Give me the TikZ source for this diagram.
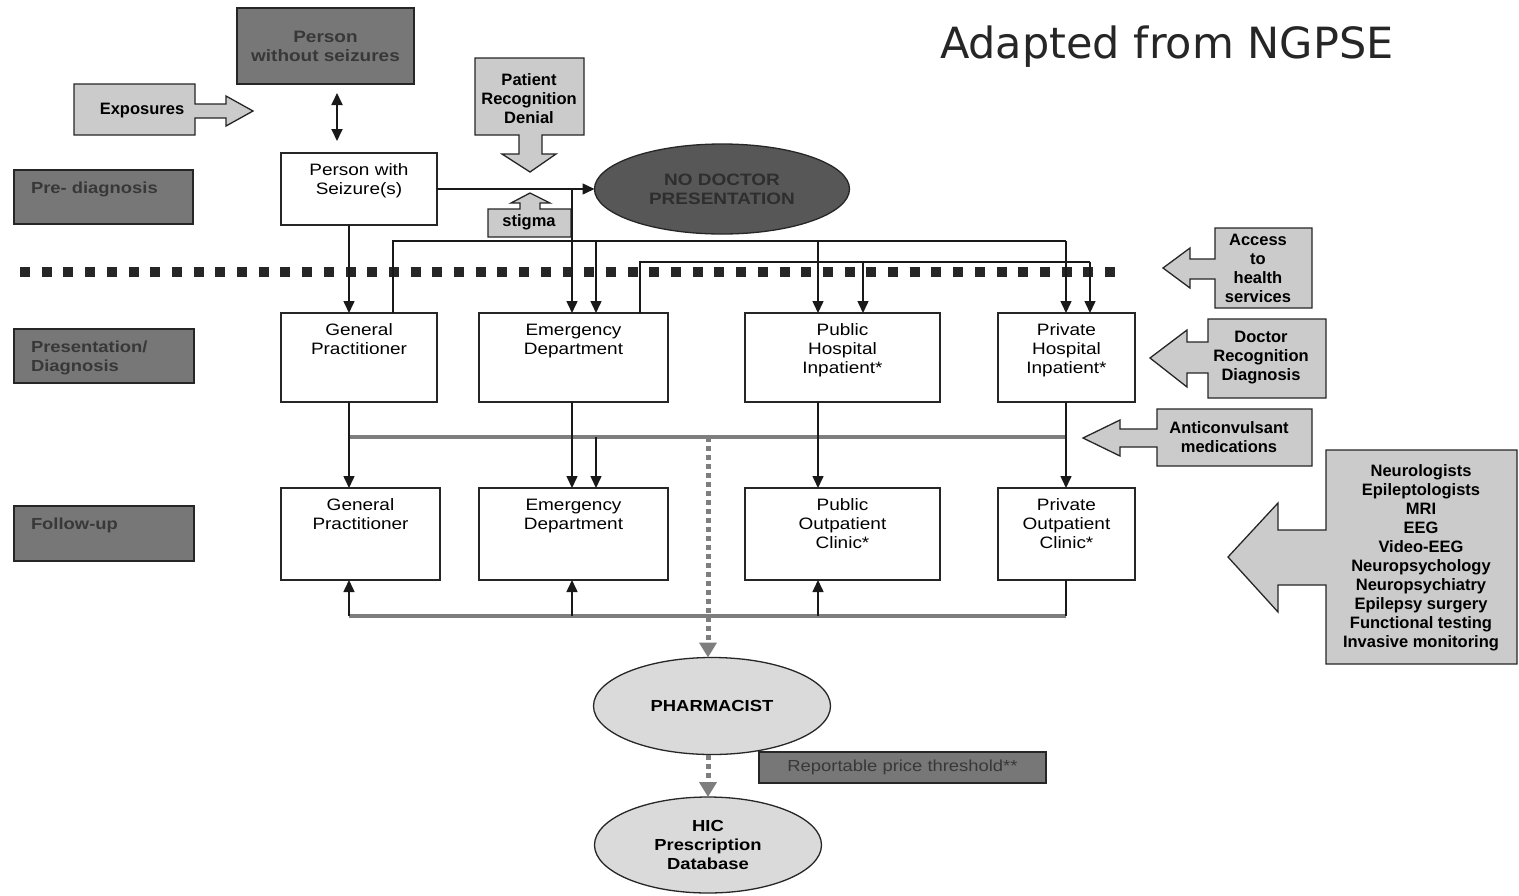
\documentclass[tikz,border=0pt]{standalone}
\usepackage{fontspec}
\setmainfont{Liberation Sans}
\newfontfamily\wf[FakeStretch=1.15]{Liberation Sans}
\newfontfamily\adf{DejaVu Sans}
\usetikzlibrary{arrows.meta,shapes.geometric}
\definecolor{dgray}{HTML}{777777}
\definecolor{dtext}{HTML}{383838}
\definecolor{lgray}{HTML}{CBCBCB}
\definecolor{ngray}{HTML}{575757}
\definecolor{ntext}{HTML}{2E2E2E}
\definecolor{egray}{HTML}{DADADA}
\definecolor{lineg}{HTML}{7E7E7E}
\begin{document}
\begin{tikzpicture}[x=1pt,y=-1pt,
  every node/.style={inner sep=0pt, outer sep=0pt},
  wbox/.style={draw=black!85, line width=1.3pt, fill=white},
  dbox/.style={draw=black!85, line width=1.2pt, fill=dgray},
  cbox/.style={draw=black!85, line width=1.3pt, fill=lgray, line join=miter},
  wlab/.style={anchor=north, yshift=-11pt, align=center, font=\wf\fontsize{16.5}{19}\selectfont},
  llab/.style={anchor=north west, xshift=17pt, yshift=-12pt, align=left, text=dtext, font=\wf\bfseries\fontsize{16}{19}\selectfont},
  ctext/.style={align=center, font=\bfseries\fontsize{16.5}{19}\selectfont},
  conn/.style={draw=black!90, line width=1.5pt},
  arr/.style={conn, -{Triangle[length=12pt,width=11pt]}},
  gline/.style={draw=lineg, line width=4.5pt},
  gdot/.style={draw=lineg, line width=5pt, dash pattern=on 5pt off 4pt, -{Triangle[length=15pt,width=17pt,fill=lineg]}},
  bdot/.style={draw=black!85, line width=10pt, dash pattern=on 10pt off 11.7pt}
]
\useasboundingbox[fill=white] (0,0) rectangle (1519,895);

% column / row coordinates
\coordinate (cA) at (349,0);
\coordinate (cB) at (393,0);
\coordinate (cC) at (572,0);
\coordinate (cD) at (596,0);
\coordinate (cE) at (640,0);
\coordinate (cF) at (818,0);
\coordinate (cG) at (863,0);
\coordinate (cH) at (1066,0);
\coordinate (cI) at (1090,0);
\coordinate (cJ) at (708,0);
\coordinate (cK) at (337,0);
\coordinate (r1) at (0,241);
\coordinate (r2) at (0,262);
\coordinate (r3) at (0,437);
\coordinate (r4) at (0,616);
\coordinate (dl) at (20,272);
\coordinate (dr) at (1122,272);

% title
\node[anchor=base west, text=black!85, font=\adf\fontsize{43}{50}\selectfont] (title) at (940,58) {Adapted from NGPSE};

% thick dotted boundary
\draw[bdot] (dl) -- (dr);

% left stage labels
\node[dbox, minimum width=179, minimum height=54, label={[llab]north west:Pre- diagnosis}] (pre) at (103.5,197) {};
\node[dbox, minimum width=180, minimum height=54, label={[llab]north west:Presentation/\\Diagnosis}] (presd) at (104,356) {};
\node[dbox, minimum width=180, minimum height=55, label={[llab]north west:Follow-up}] (fup) at (104,533.5) {};

% top nodes
\node[dbox, minimum width=177, minimum height=76, align=center, text=dtext, font=\wf\bfseries\fontsize{16.5}{19}\selectfont] (nowo) at (325.5,46) {Person\\without seizures};
\node[wbox, minimum width=156, minimum height=72, label={[wlab]north:Person with\\Seizure(s)}] (seiz) at (359,189) {};
\node[ellipse, draw=black!85, line width=1.3pt, fill=ngray, minimum width=255, minimum height=90, align=center, text=ntext, font=\wf\bfseries\fontsize{16.5}{19}\selectfont] (nodoc) at (722,189) {NO DOCTOR\\PRESENTATION};

% callout shapes
\draw[cbox] (74,84) -- (195,84) -- (195,104) -- (226,104) -- (226,96) -- (253,111) -- (226,126) -- (226,118) -- (195,118) -- (195,135) -- (74,135) -- cycle;
\node[ctext] (expt) at (142,111) {Exposures};
\draw[cbox] (475,58) -- (584,58) -- (584,135) -- (542,135) -- (542,154) -- (556,154) -- (530,172) -- (502,154) -- (519,154) -- (519,135) -- (475,135) -- cycle;
\node[ctext] (patt) at (529,99) {Patient\\Recognition\\Denial};
\draw[cbox] (488,209) -- (520,209) -- (520,203) -- (511,203) -- (530,193) -- (550,203) -- (540,203) -- (540,209) -- (571,209) -- (571,237) -- (488,237) -- cycle;
\node[ctext] (stigt) at (529,222) {stigma};
\draw[cbox] (1215,228) -- (1312,228) -- (1312,308) -- (1215,308) -- (1215,279) -- (1190,279) -- (1190,288) -- (1163,268) -- (1190,248) -- (1190,259) -- (1215,259) -- cycle;
\node[ctext] (acct) at (1258,268) {Access\\to\\health\\services};
\draw[cbox] (1208,319) -- (1326,319) -- (1326,398) -- (1208,398) -- (1208,373) -- (1187,373) -- (1187,387) -- (1150,358) -- (1187,330) -- (1187,342) -- (1208,342) -- cycle;
\node[ctext] (doct) at (1261,358) {Doctor\\Recognition\\Diagnosis};
\draw[cbox] (1157,409) -- (1312,409) -- (1312,466) -- (1157,466) -- (1157,447) -- (1120,447) -- (1120,456) -- (1083,438) -- (1120,420) -- (1120,429) -- (1157,429) -- cycle;
\node[ctext] (antit) at (1229,437) {Anticonvulsant\\medications};
\draw[cbox] (1326,450) -- (1517,450) -- (1517,664) -- (1326,664) -- (1326,585) -- (1278,585) -- (1278,612) -- (1228,557) -- (1278,503) -- (1278,530) -- (1326,530) -- cycle;
\node[ctext] (bigt) at (1421,558) {Neurologists\\Epileptologists\\MRI\\EEG\\Video-EEG\\Neuropsychology\\Neuropsychiatry\\Epilepsy surgery\\Functional testing\\Invasive monitoring};

% presentation row
\node[wbox, minimum width=156, minimum height=89, label={[wlab]north:General\\Practitioner}] (gpA) at (359,357.5) {};
\node[wbox, minimum width=189, minimum height=89, label={[wlab]north:Emergency\\Department}] (edA) at (573.5,357.5) {};
\node[wbox, minimum width=195, minimum height=89, label={[wlab]north:Public\\Hospital\\Inpatient*}] (pubA) at (842.5,357.5) {};
\node[wbox, minimum width=137, minimum height=89, label={[wlab]north:Private\\Hospital\\Inpatient*}] (priA) at (1066.5,357.5) {};

% follow-up row
\node[wbox, minimum width=159, minimum height=92, label={[wlab]north:General\\Practitioner}] (gpB) at (360.5,534) {};
\node[wbox, minimum width=189, minimum height=92, label={[wlab]north:Emergency\\Department}] (edB) at (573.5,534) {};
\node[wbox, minimum width=195, minimum height=92, label={[wlab]north:Public\\Outpatient\\Clinic*}] (pubB) at (842.5,534) {};
\node[wbox, minimum width=137, minimum height=92, label={[wlab]north:Private\\Outpatient\\Clinic*}] (priB) at (1066.5,534) {};

% bottom nodes
\node[ellipse, draw=black!85, line width=1.3pt, fill=egray, minimum width=237, minimum height=97, font=\wf\bfseries\fontsize{16}{19}\selectfont] (pharm) at (712,706) {PHARMACIST};
\node[ellipse, draw=black!85, line width=1.3pt, fill=egray, minimum width=227, minimum height=96, align=center, font=\wf\bfseries\fontsize{16}{19}\selectfont] (hic) at (708,845) {HIC\\Prescription\\Database};
\node[dbox, minimum width=287, minimum height=31, text=dtext, font=\wf\fontsize{16}{19}\selectfont] (rep) at (902.5,767.5) {Reportable price threshold**};

% gray medication lines
\draw[gline] (r3 -| cA) -- (r3 -| cH);
\draw[gline] (r4 -| cA) -- (r4 -| cH);
\draw[gdot] (r3 -| cJ) -- (pharm.north -| cJ);
\draw[gdot] (pharm.south -| cJ) -- (hic.north -| cJ);

% top connectors
\draw[{Triangle[length=12pt,width=11pt]}-{Triangle[length=12pt,width=11pt]}, conn, line width=1.8pt, shorten <=9pt, shorten >=12pt] (nowo.south -| cK) -- (seiz.north -| cK);
\draw[arr] (seiz.east) -- (nodoc.west);
\draw[arr] (seiz.east -| cC) -- (edA.north -| cC);
\draw[arr] (seiz.south -| cA) -- (gpA.north -| cA);

% GP to hospitals
\draw[conn] (gpA.north -| cB) -- (r1 -| cB) -- (r1 -| cH);
\draw[arr] (r1 -| cD) -- (edA.north -| cD);
\draw[arr] (r1 -| cF) -- (pubA.north -| cF);
\draw[arr] (r1 -| cH) -- (priA.north -| cH);
% ED to hospitals
\draw[conn] (edA.north -| cE) -- (r2 -| cE) -- (r2 -| cI);
\draw[arr] (r2 -| cG) -- (pubA.north -| cG);
\draw[arr] (r2 -| cI) -- (priA.north -| cI);

% presentation to follow-up
\draw[arr] (gpA.south -| cA) -- (gpB.north -| cA);
\draw[arr] (edA.south -| cC) -- (edB.north -| cC);
\draw[arr] (r3 -| cD) -- (edB.north -| cD);
\draw[arr] (pubA.south -| cF) -- (pubB.north -| cF);
\draw[arr] (priA.south -| cH) -- (priB.north -| cH);

% follow-up feedback
\draw[conn] (priB.south -| cH) -- (r4 -| cH);
\draw[arr] (r4 -| cA) -- (gpB.south -| cA);
\draw[arr] (r4 -| cC) -- (edB.south -| cC);
\draw[arr] (r4 -| cF) -- (pubB.south -| cF);
\end{tikzpicture}
\end{document}
